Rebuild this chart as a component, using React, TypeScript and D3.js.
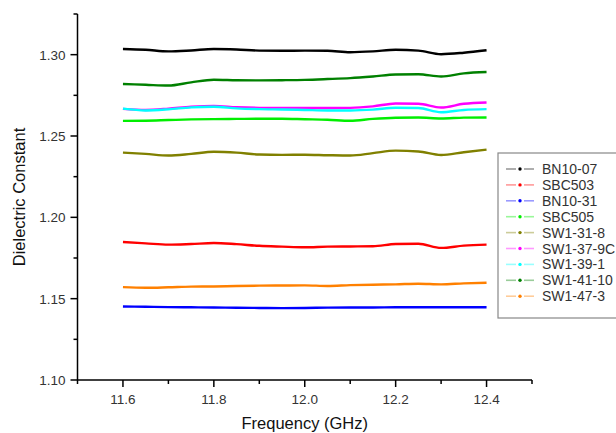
import React, { useRef, useLayoutEffect } from "react";
import * as d3 from "d3";

const FREQS = [
  11.6, 11.65, 11.7, 11.75, 11.8, 11.85, 11.9, 11.95, 12.0, 12.05, 12.1, 12.15,
  12.2, 12.25, 12.3, 12.35, 12.4,
];

const SERIES_NAMES = [
  "BN10-07",
  "SBC503",
  "BN10-31",
  "SBC505",
  "SW1-31-8",
  "SW1-37-9C",
  "SW1-39-1",
  "SW1-41-10",
  "SW1-47-3",
];

const SERIES_COLORS = [
  "#000000",
  "#ff0000",
  "#0000ff",
  "#00ee00",
  "#808000",
  "#ff00ff",
  "#00ffff",
  "#008000",
  "#ff8000",
];

const BN10_07 = [1.3035, 1.303, 1.302, 1.3026, 1.3035, 1.3032, 1.3025, 1.3024, 1.3025, 1.3024, 1.3015, 1.302, 1.303, 1.3025, 1.3003, 1.3012, 1.3027];
const SBC503 = [1.1848, 1.184, 1.1832, 1.1836, 1.1842, 1.1835, 1.1825, 1.182, 1.1816, 1.182, 1.1821, 1.1822, 1.1836, 1.1838, 1.1812, 1.1826, 1.1832];
const BN10_31 = [1.1452, 1.145, 1.1448, 1.1447, 1.1446, 1.1444, 1.1443, 1.1442, 1.1443, 1.1445, 1.1446, 1.1446, 1.1447, 1.1447, 1.1447, 1.1447, 1.1447];
const SBC505 = [1.2593, 1.2594, 1.2598, 1.2602, 1.2604, 1.2605, 1.2606, 1.2606, 1.2603, 1.26, 1.2594, 1.2605, 1.2612, 1.2614, 1.2608, 1.2613, 1.2614];
const SW1_31_8 = [1.2398, 1.239, 1.238, 1.239, 1.2403, 1.2398, 1.2386, 1.2384, 1.2385, 1.2382, 1.238, 1.2395, 1.241, 1.2405, 1.2383, 1.24, 1.2416];
const SW1_37_9C = [1.2667, 1.266, 1.2668, 1.268, 1.2685, 1.2677, 1.2673, 1.2672, 1.2672, 1.2672, 1.2673, 1.2682, 1.27, 1.2698, 1.2675, 1.2698, 1.2706];
const SW1_39_1 = [1.2668, 1.2657, 1.2664, 1.2676, 1.268, 1.267, 1.2665, 1.2663, 1.266, 1.2657, 1.2657, 1.2662, 1.2674, 1.2672, 1.2646, 1.266, 1.2665];
const SW1_41_10 = [1.282, 1.2815, 1.281, 1.283, 1.2846, 1.2843, 1.2842, 1.2843, 1.2845, 1.285, 1.2856, 1.2866, 1.2878, 1.288, 1.2866, 1.2885, 1.2893];
const SW1_47_3 = [1.1571, 1.1567, 1.157, 1.1574, 1.1575, 1.1578, 1.158, 1.1581, 1.1582, 1.1578, 1.1583, 1.1586, 1.1588, 1.1592, 1.1588, 1.1594, 1.1598];

const SERIES_VALUES = [BN10_07, SBC503, BN10_31, SBC505, SW1_31_8, SW1_37_9C, SW1_39_1, SW1_41_10, SW1_47_3];

const X_MAJOR = [11.6, 11.8, 12.0, 12.2, 12.4];
const X_MINOR = [11.5, 11.7, 11.9, 12.1, 12.3, 12.5];
const Y_MAJOR = [1.1, 1.15, 1.2, 1.25, 1.3];
const Y_MINOR = [1.125, 1.175, 1.225, 1.275, 1.325];

const W = 616;
const H = 433;
const FONT = "'Liberation Sans', Arial, sans-serif";

export default function App() {
  const svgRef = useRef<SVGSVGElement | null>(null);

  useLayoutEffect(() => {
    const svg = svgRef.current;
    if (!svg) return;
    const M = { l: 77.5, r: 84, t: 14, b: 53 };

    const x = d3.scaleLinear().domain([11.5, 12.5]).range([M.l, W - M.r]);
    const y = d3.scaleLinear().domain([1.1, 1.325]).range([H - M.b, M.t]);

    const sel = d3.select(svg);
    sel.selectAll("*").remove();

    // data lines
    const line = d3
      .line<number>()
      .x((_, i) => x(FREQS[i]))
      .y((d) => y(d))
      .curve(d3.curveMonotoneX);

    const g = sel.append("g");
    SERIES_VALUES.forEach((vals, i) => {
      g.append("path")
        .attr("d", line(vals))
        .attr("fill", "none")
        .attr("stroke", SERIES_COLORS[i])
        .attr("stroke-width", 2.4)
        .attr("stroke-linejoin", "round");
    });

    // axes
    const axisG = sel.append("g").attr("stroke", "#000").attr("stroke-width", 1.5);
    axisG
      .append("line")
      .attr("x1", x(11.5))
      .attr("x2", x(12.5))
      .attr("y1", y(1.1))
      .attr("y2", y(1.1));
    axisG
      .append("line")
      .attr("x1", x(11.5))
      .attr("x2", x(11.5))
      .attr("y1", y(1.1))
      .attr("y2", y(1.325));

    X_MAJOR.forEach((t) => {
      axisG.append("line").attr("x1", x(t)).attr("x2", x(t)).attr("y1", y(1.1)).attr("y2", y(1.1) + 7);
    });
    X_MINOR.forEach((t) => {
      axisG.append("line").attr("x1", x(t)).attr("x2", x(t)).attr("y1", y(1.1)).attr("y2", y(1.1) + 4);
    });
    Y_MAJOR.forEach((t) => {
      axisG.append("line").attr("x1", x(11.5) - 7).attr("x2", x(11.5)).attr("y1", y(t)).attr("y2", y(t));
    });
    Y_MINOR.forEach((t) => {
      axisG.append("line").attr("x1", x(11.5) - 4).attr("x2", x(11.5)).attr("y1", y(t)).attr("y2", y(t));
    });

    sel
      .append("g")
      .selectAll("text")
      .data(X_MAJOR)
      .enter()
      .append("text")
      .attr("x", (d) => x(d))
      .attr("y", y(1.1) + 24)
      .attr("text-anchor", "middle")
      .attr("font-family", FONT)
      .attr("font-size", 13.5)
      .attr("fill", "#333")
      .text((d) => d.toFixed(1));

    sel
      .append("g")
      .selectAll("text")
      .data(Y_MAJOR)
      .enter()
      .append("text")
      .attr("x", x(11.5) - 12)
      .attr("y", (d) => y(d) + 5)
      .attr("text-anchor", "end")
      .attr("font-family", FONT)
      .attr("font-size", 13.5)
      .attr("fill", "#333")
      .text((d) => d.toFixed(2));

    sel
      .append("text")
      .attr("x", (x(11.5) + x(12.5)) / 2)
      .attr("y", 429)
      .attr("text-anchor", "middle")
      .attr("font-family", FONT)
      .attr("font-size", 16.5)
      .attr("fill", "#111")
      .text("Frequency (GHz)");

    const yMid = (y(1.1) + y(1.325)) / 2;
    sel
      .append("text")
      .attr("x", 25)
      .attr("y", yMid)
      .attr("text-anchor", "middle")
      .attr("font-family", FONT)
      .attr("font-size", 16.5)
      .attr("fill", "#111")
      .attr("transform", `rotate(-90, 25, ${yMid})`)
      .text("Dielectric Constant");

    // legend
    const L = { x: 498, y: 153, w: 140, h: 165, row: 15.9 };
    const lg = sel.append("g");
    lg.append("rect")
      .attr("x", L.x)
      .attr("y", L.y)
      .attr("width", L.w)
      .attr("height", L.h)
      .attr("fill", "#fff")
      .attr("stroke", "#888")
      .attr("stroke-width", 1.2);

    SERIES_NAMES.forEach((name, i) => {
      const cy = L.y + 16 + i * L.row;
      const c = SERIES_COLORS[i];
      lg.append("line")
        .attr("x1", L.x + 8)
        .attr("x2", L.x + 18)
        .attr("y1", cy)
        .attr("y2", cy)
        .attr("stroke", c)
        .attr("stroke-opacity", 0.4)
        .attr("stroke-width", 1.6);
      lg.append("line")
        .attr("x1", L.x + 26)
        .attr("x2", L.x + 36)
        .attr("y1", cy)
        .attr("y2", cy)
        .attr("stroke", c)
        .attr("stroke-opacity", 0.4)
        .attr("stroke-width", 1.6);
      lg.append("circle")
        .attr("cx", L.x + 22)
        .attr("cy", cy)
        .attr("r", 1.7)
        .attr("fill", c);
      lg.append("text")
        .attr("x", L.x + 44)
        .attr("y", cy + 5)
        .attr("font-family", FONT)
        .attr("font-size", 14)
        .attr("fill", "#333")
        .text(name);
    });
  }, []);

  return (
    <div style={{ position: "fixed", left: 0, top: 0, width: W, height: H, background: "#fff" }}>
      <svg ref={svgRef} width={W} height={H} style={{ display: "block" }} />
    </div>
  );
}
